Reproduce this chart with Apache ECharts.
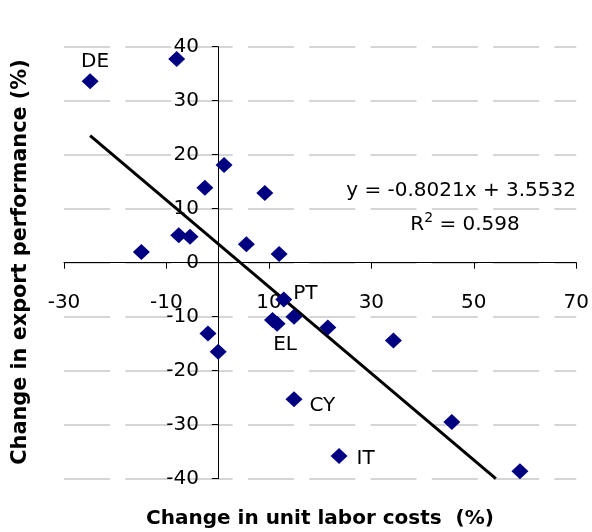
<!DOCTYPE html>
<html>
<head>
<meta charset="utf-8">
<script src="https://cdn.jsdelivr.net/npm/echarts@6/dist/echarts.min.js"></script>
<style>
html,body{margin:0;padding:0;background:#fff;}
#chart{width:592px;height:532px;}
</style>
</head>
<body>
<div id="chart"></div>
<script>
// Data
const laborCosts = [-24.9, -8.0, -14.9, -7.6, -5.4, -2.5, 1.25, 9.2, 5.6, 12.0, -1.9, 0.1, 12.9, 10.7, 11.6, 14.9, 21.5, 34.3, 14.9, 23.7, 45.7, 59.0];
const exportPerf = [33.6, 37.7, 2.0, 5.1, 4.8, 13.9, 18.1, 12.9, 3.4, 1.6, -13.1, -16.5, -6.8, -10.6, -11.3, -10.0, -12.0, -14.4, -25.3, -35.8, -29.5, -38.6];
const pointLabels = ['DE', '', '', '', '', '', '', '', '', '', '', '', 'PT', '', 'EL', '', '', '', 'CY', 'IT', '', ''];
const xTicks = [-30, -10, 10, 30, 50, 70];
const yTicks = [-40, -30, -20, -10, 0, 10, 20, 30, 40];
const trendSlope = -0.8021;
const trendIntercept = 3.5532;
const trendXStart = -24.9;
const trendYEnd = -40;

const font = 'DejaVu Sans';
const labelPos = {
  DE: {position: 'top', offset: [5, 4]},
  PT: {position: 'right', offset: [-4, -6]},
  EL: {position: 'bottom', offset: [8, -2]},
  CY: {position: 'right', offset: [2, 6]},
  IT: {position: 'right', offset: [4, 3]}
};

const pts = laborCosts.map((x, i) => {
  const name = pointLabels[i];
  const o = {value: [x, exportPerf[i]], name: name};
  if (name) {
    o.label = Object.assign({show: true, formatter: name, color: '#000', fontSize: 20, fontFamily: font}, labelPos[name]);
  }
  return o;
});

const trendXEnd = (trendYEnd - trendIntercept) / trendSlope;
const trendData = [
  [trendXStart, trendSlope * trendXStart + trendIntercept],
  [trendXEnd, trendYEnd]
];

const W = 592, H = 532;
const gridL = 64, gridR = 15, gridT = 46.7, gridB = 53.3;
const plotW = W - gridL - gridR, plotH = H - gridT - gridB;
const xMin = xTicks[0], xMax = xTicks[xTicks.length - 1];
const yMin = yTicks[0], yMax = yTicks[yTicks.length - 1];
// move axes so they cross at the origin (labels move along)
const yAxisOffset = -plotW * (0 - xMin) / (xMax - xMin);
const xAxisOffset = -plotH * (0 - yMin) / (yMax - yMin);

const chart = echarts.init(document.getElementById('chart'), null, {renderer: 'canvas'});
chart.setOption({
  animation: false,
  backgroundColor: '#fff',
  grid: {left: gridL, right: gridR, top: gridT, bottom: gridB, containLabel: false},
  xAxis: {
    type: 'value', min: xMin, max: xMax, interval: xTicks[1] - xTicks[0],
    offset: xAxisOffset,
    axisLine: {onZero: false, lineStyle: {color: '#000', width: 1}},
    axisTick: {show: true, inside: false, length: 6, lineStyle: {color: '#000'}},
    axisLabel: {margin: 30, color: '#000', fontSize: 20, fontFamily: font},
    splitLine: {show: false}
  },
  yAxis: {
    type: 'value', min: yMin, max: yMax, interval: yTicks[1] - yTicks[0],
    offset: yAxisOffset,
    axisLine: {onZero: false, lineStyle: {color: '#000', width: 1}},
    axisTick: {show: true, inside: false, length: 6, lineStyle: {color: '#000'}},
    axisLabel: {margin: 19, color: '#000', fontSize: 20, fontFamily: font},
    splitLine: {show: true, lineStyle: {color: '#c8c8c8', width: 1.5, type: [46, 15.3]}}
  },
  graphic: [
    {type: 'text', x: 320, y: 519, style: {text: 'Change in unit labor costs  (%)', fontSize: 20, fontWeight: 'bold', fontFamily: font, fill: '#000', textAlign: 'center', textVerticalAlign: 'middle'}},
    {type: 'text', x: 21, y: 262, rotation: Math.PI / 2, style: {text: 'Change in export performance (%)', fontSize: 20.8, fontWeight: 'bold', fontFamily: font, fill: '#000', textAlign: 'center', textVerticalAlign: 'middle'}},
    {type: 'text', x: 576, y: 191, style: {text: 'y = -0.8021x + 3.5532', fontSize: 20, fontFamily: font, fill: '#000', textAlign: 'right', textVerticalAlign: 'middle'}},
    {type: 'text', x: 465, y: 225, style: {text: 'R{s|2} = 0.598', rich: {s: {fontSize: 14, verticalAlign: 'top', padding: [0,0,14,0], fontFamily: font}}, fontSize: 20, fontFamily: font, fill: '#000', textAlign: 'center', textVerticalAlign: 'middle'}}
  ],
  series: [
    {
      type: 'line', data: trendData, showSymbol: false, symbol: 'none',
      lineStyle: {color: '#000', width: 3}, z: 3, silent: true
    },
    {
      type: 'scatter', data: pts, symbol: 'diamond', symbolSize: [17, 16],
      itemStyle: {color: '#000080', opacity: 1}, z: 4
    }
  ]
});
</script>
</body>
</html>
